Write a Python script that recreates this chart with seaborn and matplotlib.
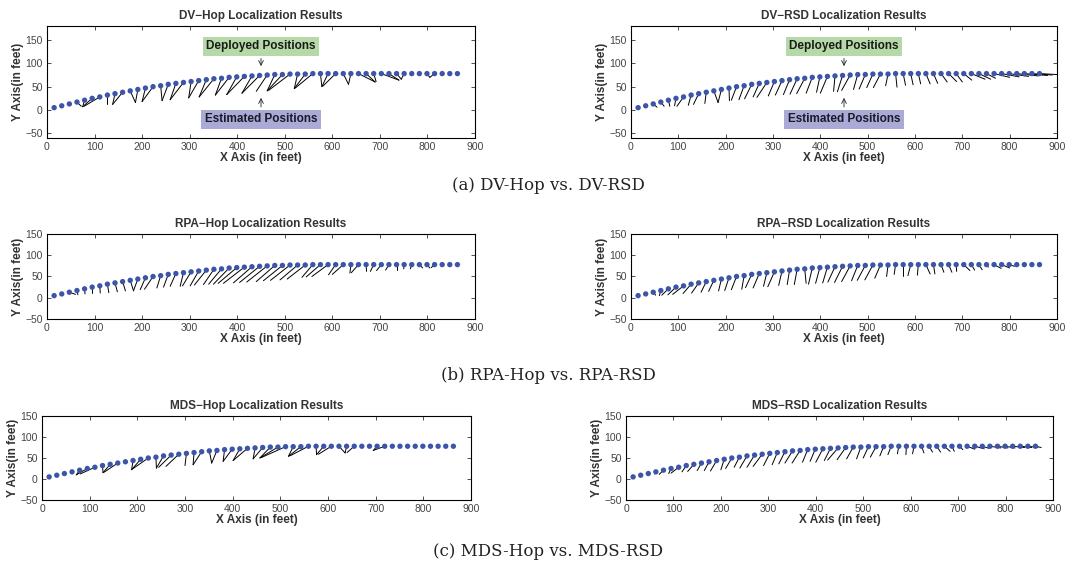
import matplotlib
matplotlib.use("Agg")
import matplotlib.pyplot as plt
import seaborn as sns
import pandas as pd

# deployed node positions (same in every panel)
dep_x = [15, 31, 47, 63, 79, 95, 111, 127, 143, 159, 175, 191, 207, 223, 239, 255, 271, 287,
         303, 319, 335, 351, 367, 383, 399, 415, 431, 447, 463, 479, 495, 511, 527, 543, 559, 575,
         591, 607, 623, 639, 655, 671, 687, 703, 719, 735, 751, 767, 783, 799, 815, 831, 847, 863]
dep_y = [5, 9, 13, 17, 21, 25, 28, 32, 35, 38, 41, 44, 47, 50, 52, 55, 57, 59,
         61, 63, 65, 67, 68, 70, 71, 72, 73, 74, 75, 76, 76, 77, 77, 77, 78, 78,
         78, 78, 78, 78, 78, 78, 78, 78, 78, 78, 78, 78, 78, 78, 78, 78, 78, 78]

# estimated positions
dvhop_x = [17, 33, 50, 72, 75, 75, 78, 127, 138, 138, 186, 186, 200, 200, 242, 242, 259, 259,
           298, 298, 320, 320, 354, 354, 378, 378, 410, 410, 440, 463, 463, 466, 520, 520, 522, 578,
           578, 580, 634, 634, 690, 690, 692, 740, 740, 745, 745, 767, 783, 805, 805, 831, 847, 863]
dvhop_y = [6, 8, 11, 8, 7, 7, 8, 13, 12, 12, 16, 16, 18, 18, 20, 20, 22, 22,
           26, 26, 28, 28, 32, 32, 33, 33, 36, 36, 40, 41, 41, 42, 46, 46, 47, 50,
           50, 51, 55, 55, 60, 60, 61, 64, 64, 66, 66, 78, 78, 70, 70, 78, 78, 78]

dvrsd_x = [17, 33, 55, 70, 82, 92, 97, 121, 132, 156, 184, 184, 208, 212, 228, 240, 258, 266,
           290, 305, 322, 336, 350, 370, 392, 400, 428, 436, 445, 470, 482, 498, 512, 538, 562, 580,
           596, 612, 632, 648, 668, 688, 700, 720, 748, 760, 770, 800, 820, 840, 860, 880, 890, 900]
dvrsd_y = [5, 8, 6, 8, 8, 9, 8, 10, 12, 14, 16, 16, 20, 21, 22, 24, 28, 27,
           30, 32, 33, 34, 35, 36, 38, 36, 40, 39, 42, 44, 45, 48, 48, 52, 49, 53,
           54, 56, 56, 57, 60, 61, 60, 64, 66, 66, 68, 70, 71, 72, 73, 74, 75, 76]

rpahop_x = [15, 31, 60, 65, 80, 95, 112, 130, 148, 165, 182, 182, 196, 205, 231, 245, 259, 280,
            285, 301, 310, 329, 340, 350, 360, 371, 392, 405, 420, 440, 455, 470, 490, 505, 536, 545,
            557, 592, 600, 637, 640, 672, 680, 693, 712, 735, 750, 764, 790, 805, 808, 831, 847, 863]
rpahop_y = [5, 9, 8, 7, 9, 11, 11, 12, 14, 16, 16, 17, 19, 20, 23, 25, 27, 27,
            28, 28, 30, 31, 32, 32, 34, 34, 35, 36, 37, 38, 40, 41, 42, 44, 48, 49,
            50, 54, 55, 58, 59, 62, 62, 64, 65, 66, 68, 68, 70, 70, 71, 78, 78, 78]

rparsd_x = [15, 33, 52, 60, 65, 78, 88, 110, 128, 148, 164, 185, 198, 212, 234, 242, 258, 280,
            289, 312, 330, 345, 370, 375, 390, 405, 416, 430, 445, 466, 478, 494, 515, 540, 556, 575,
            585, 605, 632, 642, 661, 678, 688, 716, 726, 742, 755, 782, 800, 810, 815, 831, 847, 863]
rparsd_y = [5, 8, 6, 5, 6, 7, 8, 10, 11, 13, 15, 16, 17, 19, 20, 24, 23, 27,
            26, 29, 31, 31, 34, 32, 34, 35, 37, 36, 38, 40, 41, 42, 46, 50, 55, 52,
            52, 53, 56, 56, 60, 60, 62, 64, 65, 66, 72, 69, 70, 74, 78, 78, 78, 78]

mdshop_x = [15, 31, 47, 63, 72, 72, 80, 128, 128, 130, 175, 188, 188, 190, 240, 240, 245, 260,
            300, 317, 317, 356, 356, 380, 380, 401, 401, 443, 443, 457, 457, 460, 517, 517, 520, 576,
            576, 580, 636, 636, 640, 671, 687, 695, 695, 735, 748, 767, 783, 799, 815, 831, 847, 863]
mdshop_y = [5, 9, 12, 16, 10, 10, 12, 15, 15, 16, 41, 22, 22, 24, 26, 26, 28, 30,
            32, 34, 34, 38, 38, 42, 42, 44, 44, 48, 48, 50, 50, 51, 54, 54, 55, 58,
            58, 59, 62, 62, 63, 78, 78, 68, 68, 78, 74, 78, 78, 78, 78, 78, 78, 78]

mdsrsd_x = [15, 31, 47, 60, 70, 90, 95, 118, 130, 150, 165, 178, 200, 210, 228, 240, 255, 268,
            290, 308, 322, 335, 350, 372, 388, 400, 418, 425, 445, 465, 486, 500, 515, 535, 552, 572,
            590, 604, 628, 646, 663, 683, 692, 710, 735, 755, 765, 790, 805, 820, 840, 855, 868, 875]
mdsrsd_y = [5, 9, 12, 12, 11, 13, 14, 17, 18, 20, 20, 19, 22, 25, 28, 26, 28, 30,
            32, 34, 36, 38, 38, 40, 42, 40, 44, 45, 46, 48, 48, 50, 52, 55, 58, 60,
            58, 60, 62, 64, 64, 66, 66, 70, 71, 72, 73, 74, 74, 74, 75, 75, 75, 75]

titles = ["DV\u2212Hop Localization Results", "DV\u2212RSD Localization Results",
          "RPA\u2212Hop Localization Results", "RPA\u2212RSD Localization Results",
          "MDS\u2212Hop Localization Results", "MDS\u2212RSD Localization Results"]
captions = ["(a) DV-Hop vs. DV-RSD", "(b) RPA-Hop vs. RPA-RSD", "(c) MDS-Hop vs. MDS-RSD"]
estimates = [(dvhop_x, dvhop_y), (dvrsd_x, dvrsd_y), (rpahop_x, rpahop_y),
             (rparsd_x, rparsd_y), (mdshop_x, mdshop_y), (mdsrsd_x, mdsrsd_y)]

sns.set_style("ticks")
plt.rcParams['font.family'] = ['Liberation Sans', 'DejaVu Sans']

W, H = 1090, 570
fig = plt.figure(figsize=(10.9, 5.7), dpi=100)

# axes boxes in pixels: (left, top, right, bottom)
boxes = [(47, 26, 475, 138), (631, 26, 1057, 138),
         (47, 234, 475, 319), (631, 234, 1057, 319),
         (42, 416, 471, 500), (626, 416, 1053, 500)]
ylims = [(-60, 180), (-60, 180), (-50, 150), (-50, 150), (-50, 150), (-50, 150)]

deployed = pd.DataFrame({"x": dep_x, "y": dep_y})

for k, (l, t, r, b) in enumerate(boxes):
    ax = fig.add_axes([l / W, 1 - b / H, (r - l) / W, (b - t) / H])
    ex, ey = estimates[k]
    for i in range(len(dep_x)):
        ax.plot([dep_x[i], ex[i]], [dep_y[i], ey[i]], color="black", lw=0.7, zorder=2)
    sns.scatterplot(data=deployed, x="x", y="y", ax=ax, color="#3d55a8", s=15,
                    edgecolor="none", zorder=3)
    ax.set_xlim(0, 900)
    ax.set_ylim(*ylims[k])
    ax.set_xticks(range(0, 901, 100))
    ax.set_yticks(range(-50, 151, 50))
    ax.tick_params(direction="in", top=True, right=True, length=3, width=0.6,
                   labelsize=7.5, colors="#333333", labelcolor="#444444", pad=3)
    for sp in ax.spines.values():
        sp.set_linewidth(0.8)
        sp.set_color("black")
    ax.set_title(titles[k], fontsize=8.5, fontweight="bold", color="#333333", pad=5)
    ax.set_xlabel("X Axis (in feet)", fontsize=8.5, fontweight="bold", color="#333333", labelpad=0)
    ax.set_ylabel("Y Axis(in feet)", fontsize=8.5, fontweight="bold", color="#333333", labelpad=1)

    if k < 2:
        ax.annotate("Deployed Positions", xy=(450, 88), xytext=(450, 137),
                    ha="center", va="center", fontsize=8.5, fontweight="bold", color="#1a1a1a",
                    bbox=dict(boxstyle="square,pad=0.3", fc="#b6d9a8", ec="none"),
                    arrowprops=dict(arrowstyle="->", color="#222222", lw=0.6))
        ax.annotate("Estimated Positions", xy=(450, 32), xytext=(450, -20),
                    ha="center", va="center", fontsize=8.5, fontweight="bold", color="#1a1a2a",
                    bbox=dict(boxstyle="square,pad=0.3", fc="#aaaad6", ec="none"),
                    arrowprops=dict(arrowstyle="->", color="#222222", lw=0.6))

for cap, y in zip(captions, [185, 375, 552]):
    fig.text(548 / W, 1 - y / H, cap, ha="center", va="center", fontsize=12,
             family=["DejaVu Serif"], color="#222222")

fig.savefig("out.png", dpi=100)
